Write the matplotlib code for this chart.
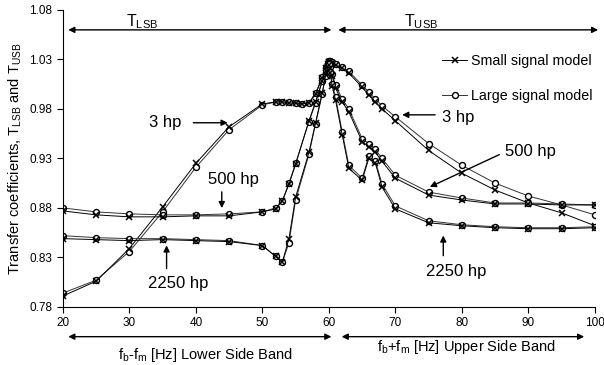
import numpy as np
import matplotlib
matplotlib.use("Agg")
import matplotlib.pyplot as plt

plt.rcParams['font.family'] = ['Liberation Sans', 'DejaVu Sans']
plt.rcParams['mathtext.fontset'] = 'custom'
plt.rcParams['mathtext.rm'] = 'Liberation Sans'
plt.rcParams['mathtext.it'] = 'Liberation Sans'

# lower side band frequencies
x_lsb_3 = [20, 25, 30, 35, 40, 45, 50, 52, 53, 54, 55, 56, 57, 58, 59, 59.5, 59.8, 60]
x_lsb = [20, 25, 30, 35, 40, 45, 50, 52, 53, 54, 55, 57, 58, 59, 59.5, 59.8, 60]
# upper side band frequencies
x_usb = [60, 60.2, 60.5, 61, 62, 63, 65, 66, 67, 68, 70, 75, 80, 85, 90, 95, 100]

lsb_3hp_large = [0.794, 0.807, 0.836, 0.876, 0.921, 0.959, 0.984, 0.987, 0.987, 0.987, 0.986, 0.985, 0.986, 0.996, 1.012, 1.022, 1.026, 1.028]
lsb_3hp_small = [0.791, 0.806, 0.839, 0.881, 0.925, 0.962, 0.985, 0.987, 0.987, 0.986, 0.986, 0.985, 0.986, 0.995, 1.011, 1.021, 1.025, 1.027]
lsb_500hp_large = [0.880, 0.876, 0.874, 0.873, 0.873, 0.874, 0.876, 0.880, 0.887, 0.905, 0.925, 0.967, 0.986, 1.008, 1.019, 1.024, 1.026]
lsb_500hp_small = [0.877, 0.873, 0.871, 0.871, 0.872, 0.872, 0.876, 0.879, 0.887, 0.904, 0.924, 0.968, 0.987, 1.008, 1.018, 1.023, 1.025]
lsb_2250hp_large = [0.852, 0.850, 0.849, 0.849, 0.848, 0.847, 0.842, 0.831, 0.825, 0.845, 0.888, 0.934, 0.965, 0.995, 1.013, 1.021, 1.025]
lsb_2250hp_small = [0.849, 0.848, 0.847, 0.848, 0.847, 0.846, 0.842, 0.831, 0.825, 0.849, 0.891, 0.936, 0.966, 0.996, 1.014, 1.020, 1.024]

usb_3hp_large = [1.028, 1.028, 1.027, 1.025, 1.022, 1.018, 1.004, 0.997, 0.990, 0.983, 0.972, 0.945, 0.923, 0.905, 0.892, 0.883, 0.873]
usb_3hp_small = [1.027, 1.027, 1.026, 1.024, 1.021, 1.016, 1.002, 0.994, 0.987, 0.980, 0.968, 0.938, 0.915, 0.898, 0.885, 0.875, 0.862]
usb_500hp_large = [1.026, 1.022, 1.015, 1.004, 0.990, 0.980, 0.950, 0.945, 0.939, 0.930, 0.913, 0.896, 0.890, 0.885, 0.885, 0.884, 0.883]
usb_500hp_small = [1.025, 1.021, 1.013, 1.001, 0.987, 0.977, 0.947, 0.942, 0.936, 0.927, 0.910, 0.893, 0.888, 0.884, 0.884, 0.883, 0.883]
usb_2250hp_large = [1.025, 1.017, 1.005, 0.992, 0.957, 0.923, 0.910, 0.932, 0.927, 0.904, 0.882, 0.867, 0.863, 0.861, 0.860, 0.860, 0.861]
usb_2250hp_small = [1.024, 1.016, 1.003, 0.989, 0.954, 0.920, 0.908, 0.930, 0.925, 0.901, 0.879, 0.865, 0.862, 0.860, 0.859, 0.859, 0.860]

x_ticks = [20, 30, 40, 50, 60, 70, 80, 90, 100]
y_ticks = [0.78, 0.83, 0.88, 0.93, 0.98, 1.03, 1.08]

fig = plt.figure(figsize=(6.04, 3.65), dpi=100)
ax = fig.add_axes([0.104, 0.159, 0.881, 0.814])

small_kw = dict(color='black', lw=0.7, marker='x', ms=4.5, mew=1.1)
large_kw = dict(color='#333333', lw=0.7, marker='o', ms=4.3, mew=1.0, mfc='white', mec='black')

series = [
    (x_lsb_3, lsb_3hp_small, lsb_3hp_large),
    (x_lsb, lsb_500hp_small, lsb_500hp_large),
    (x_lsb, lsb_2250hp_small, lsb_2250hp_large),
    (x_usb, usb_3hp_small, usb_3hp_large),
    (x_usb, usb_500hp_small, usb_500hp_large),
    (x_usb, usb_2250hp_small, usb_2250hp_large),
]
for xs, ys_small, ys_large in series:
    ax.plot(xs, ys_large, **large_kw)
    ax.plot(xs, ys_small, **small_kw)

ax.set_xlim(20, 100)
ax.set_ylim(0.78, 1.08)
ax.set_xticks(x_ticks)
ax.set_yticks(y_ticks)
ax.set_yticklabels(['%.2f' % v for v in y_ticks])
ax.tick_params(labelsize=8.5, direction='out', length=4, width=0.8)
ax.spines['top'].set_visible(False)
ax.spines['right'].set_visible(False)
ax.set_ylabel('Transfer coefficients, T$_{\\mathrm{LSB}}$ and T$_{\\mathrm{USB}}$', fontsize=10.5, labelpad=4)

arr = dict(arrowstyle='-|>', color='black', lw=1.0, mutation_scale=9)
dbl = dict(arrowstyle='<|-|>', color='black', lw=1.0, mutation_scale=9)

# band arrows on top
ax.annotate('', xy=(20.4, 1.0598), xytext=(60.8, 1.0598), arrowprops=dbl, annotation_clip=False)
ax.annotate('', xy=(61.0, 1.0598), xytext=(100.9, 1.0598), arrowprops=dbl, annotation_clip=False)
ax.text(32.0, 1.068, 'T$_{\\mathrm{LSB}}$', fontsize=11.5, ha='center', va='center')
ax.text(73.9, 1.068, 'T$_{\\mathrm{USB}}$', fontsize=11.5, ha='center', va='center')

# band arrows below the axis
ax.annotate('', xy=(20.4, -0.10), xytext=(60.8, -0.10), xycoords=('data', 'axes fraction'),
            textcoords=('data', 'axes fraction'), arrowprops=dbl, annotation_clip=False)
ax.annotate('', xy=(61.5, -0.10), xytext=(98.8, -0.10), xycoords=('data', 'axes fraction'),
            textcoords=('data', 'axes fraction'), arrowprops=dbl, annotation_clip=False)
ax.text(41.5, -0.163, 'f$_{\\mathrm{b}}$-f$_{\\mathrm{m}}$ [Hz] Lower Side Band', fontsize=10.5,
        ha='center', va='center', transform=ax.get_xaxis_transform())
ax.text(80.7, -0.135, 'f$_{\\mathrm{b}}$+f$_{\\mathrm{m}}$ [Hz] Upper Side Band', fontsize=10.5,
        ha='center', va='center', transform=ax.get_xaxis_transform())

# curve labels
ax.text(35.4, 0.966, '3 hp', fontsize=12, ha='center', va='center')
ax.annotate('', xy=(45.2, 0.966), xytext=(39.2, 0.966), arrowprops=arr)
ax.text(45.7, 0.909, '500 hp', fontsize=12, ha='center', va='center')
ax.annotate('', xy=(43.9, 0.877), xytext=(43.9, 0.899), arrowprops=arr)
ax.text(37.4, 0.804, '2250 hp', fontsize=12, ha='center', va='center')
ax.annotate('', xy=(35.6, 0.845), xytext=(35.6, 0.816), arrowprops=arr)

ax.text(79.5, 0.971, '3 hp', fontsize=12, ha='center', va='center')
ax.annotate('', xy=(70.6, 0.974), xytext=(76.4, 0.974), arrowprops=arr)
ax.text(90.3, 0.937, '500 hp', fontsize=12, ha='center', va='center')
ax.annotate('', xy=(74.8, 0.900), xytext=(86.0, 0.935), arrowprops=arr)
ax.text(79.1, 0.816, '2250 hp', fontsize=12, ha='center', va='center')
ax.annotate('', xy=(77.2, 0.855), xytext=(77.2, 0.829), arrowprops=arr)

# legend
h_small, = ax.plot([], [], **small_kw)
h_large, = ax.plot([], [], **large_kw)
ax.legend([h_small, h_large], ['Small signal model', 'Large signal model'],
          loc='upper left', bbox_to_anchor=(0.712, 0.85), frameon=False, fontsize=10.3,
          handlelength=1.8, handletextpad=0.25, labelspacing=1.45, borderaxespad=0, borderpad=0)

fig.savefig('out.png', dpi=100)
